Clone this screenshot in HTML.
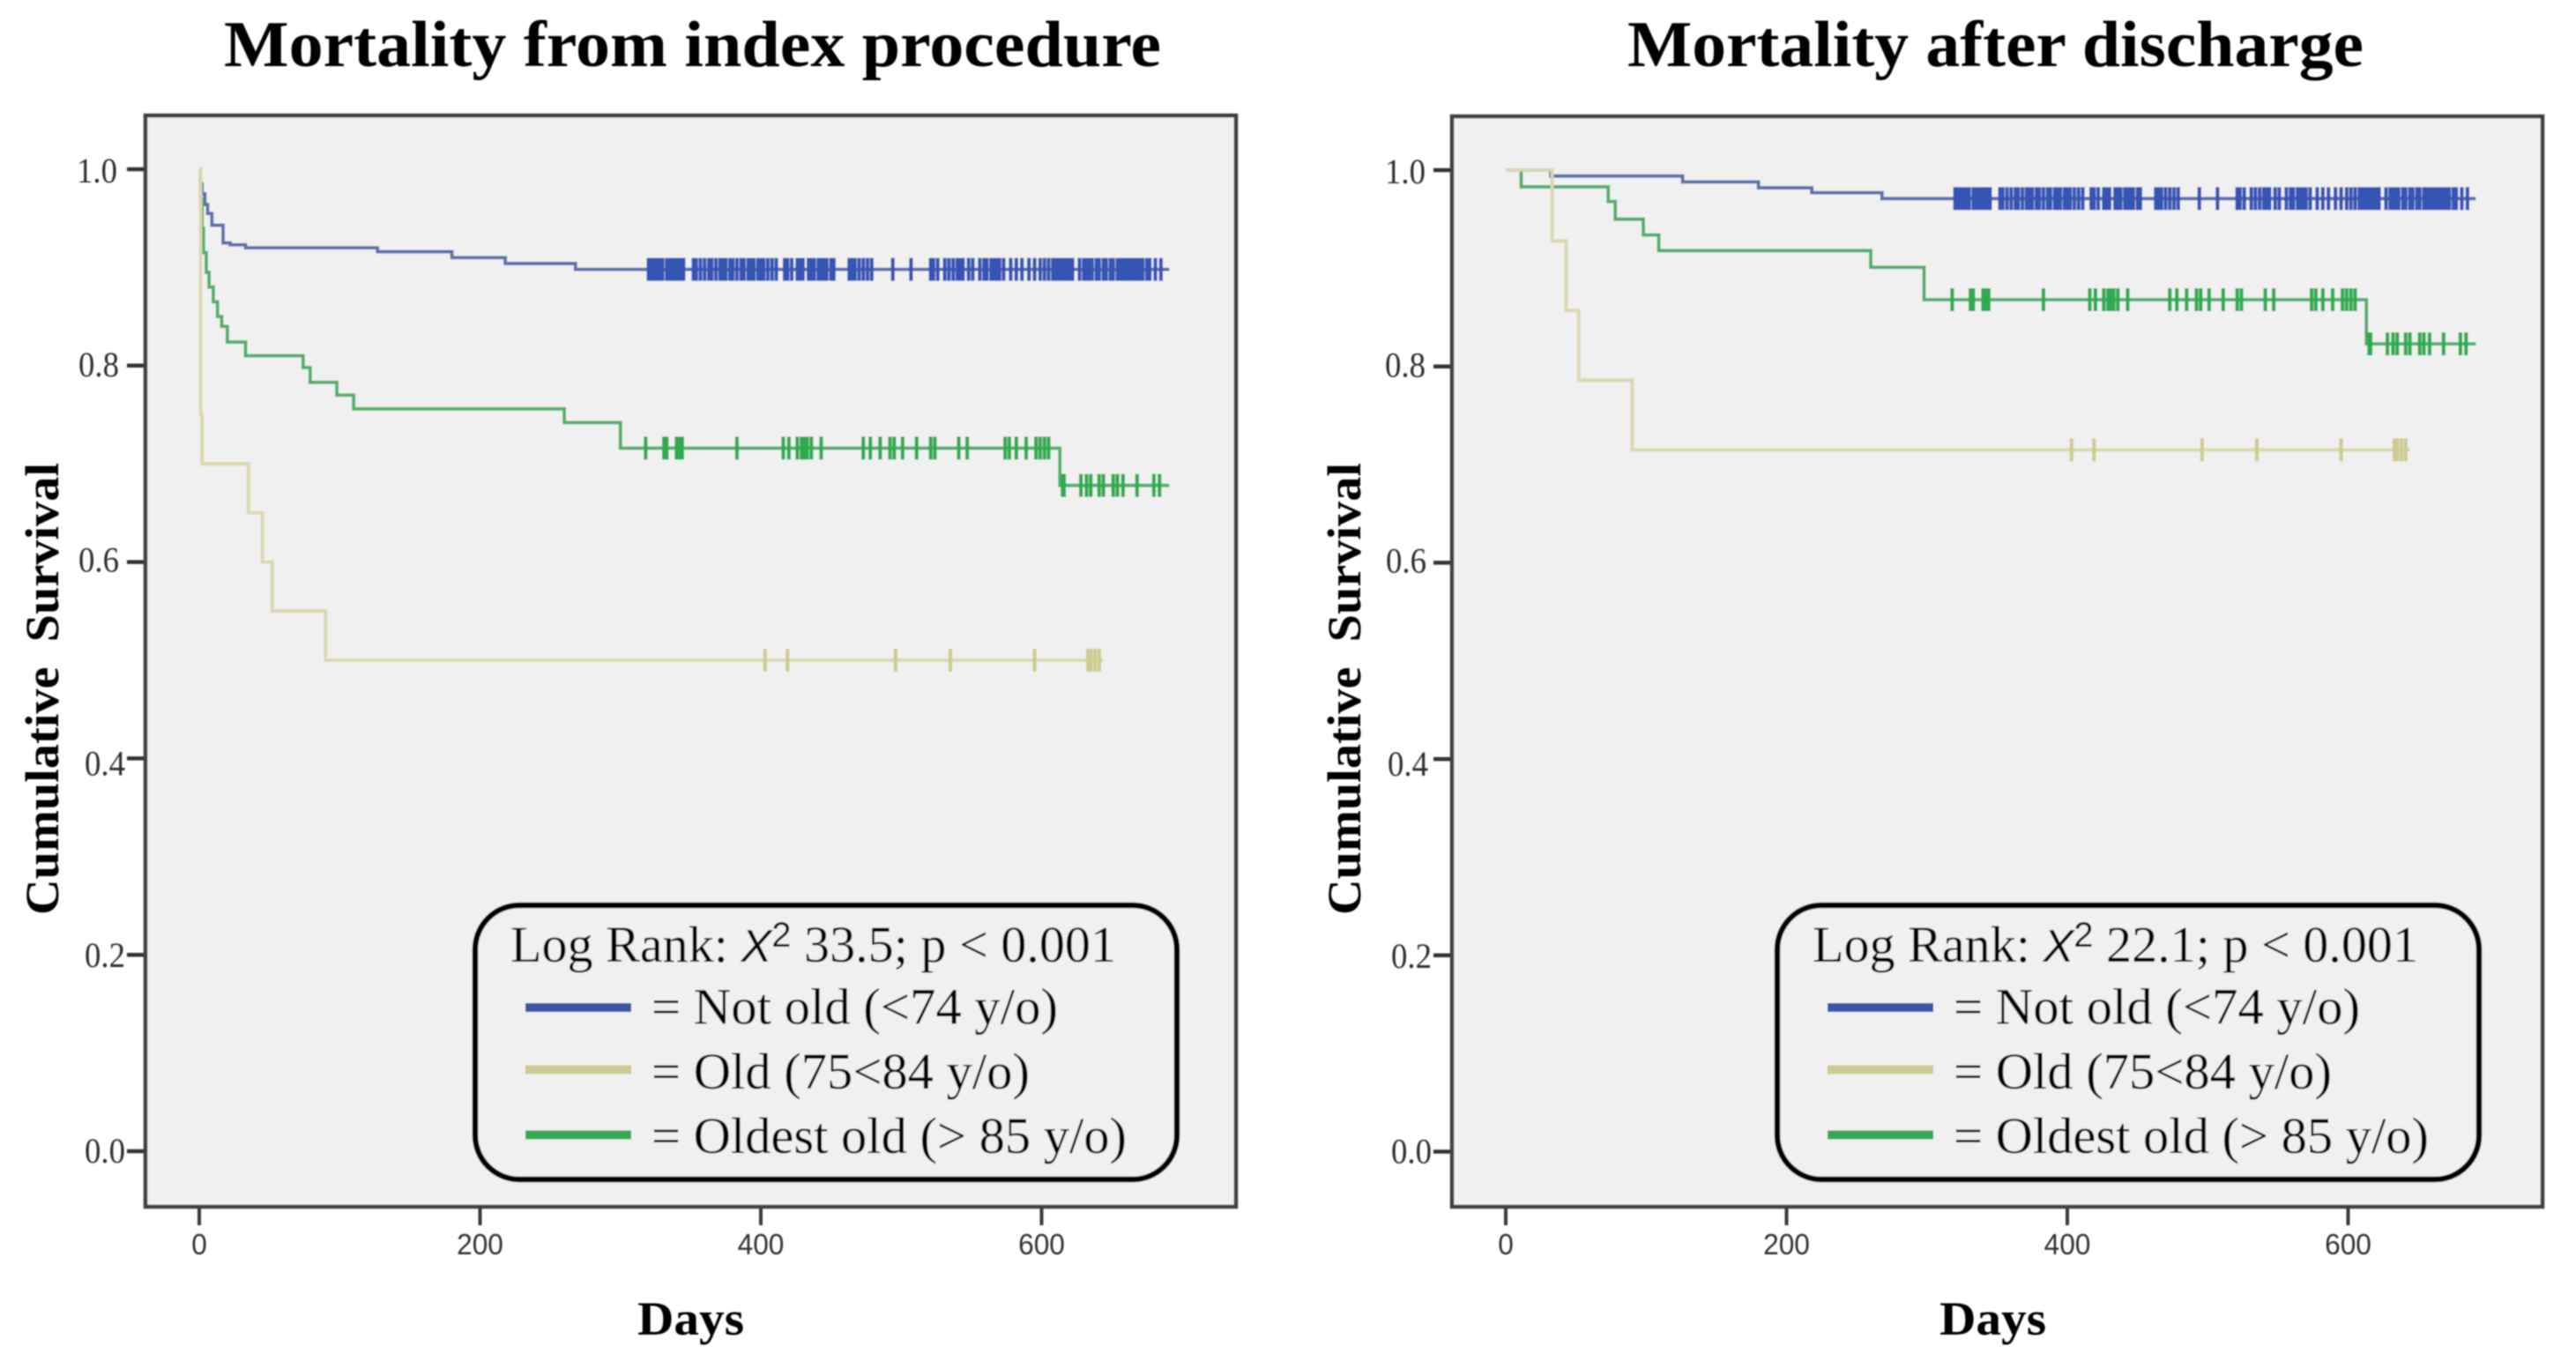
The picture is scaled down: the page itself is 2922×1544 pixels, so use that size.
<!DOCTYPE html>
<html lang="en">
<head>
<meta charset="utf-8">
<title>Mortality survival curves</title>
<style>
html,body{margin:0;padding:0;background:#fff;width:2922px;height:1544px;overflow:hidden}
svg{display:block}
.serif{font-family:"Liberation Serif",serif;fill:#000}
.bold{font-weight:700;fill:#000}
.sans{font-family:"Liberation Sans",sans-serif;fill:#333}
.tick-serif{font-family:"Liberation Serif",serif;fill:#2e2e2e}
</style>
</head>
<body>
<svg id="chart" xmlns="http://www.w3.org/2000/svg" width="2922" height="1544" viewBox="0 0 2922 1544">
  <defs>
    <filter id="soft" filterUnits="userSpaceOnUse" x="0" y="0" width="2922" height="1544">
      <feGaussianBlur stdDeviation="0.7"/>
    </filter>
  </defs>
  <rect x="0" y="0" width="2922" height="1544" fill="#ffffff"/>
  <g filter="url(#soft)">
    <text class="serif bold" x="254" y="75" font-size="74" textLength="1063" lengthAdjust="spacingAndGlyphs">Mortality from index procedure</text>
    <text class="serif bold" x="1846" y="75" font-size="74" textLength="835" lengthAdjust="spacingAndGlyphs">Mortality after discharge</text>
    <text class="serif bold" transform="translate(66,1038) rotate(-90)" font-size="54" textLength="513" lengthAdjust="spacingAndGlyphs" style="white-space:pre">Cumulative  Survival</text>
    <text class="serif bold" transform="translate(1543,1038) rotate(-90)" font-size="54" textLength="513" lengthAdjust="spacingAndGlyphs" style="white-space:pre">Cumulative  Survival</text>
    <text class="serif bold" x="723" y="1514" font-size="54" textLength="121" lengthAdjust="spacingAndGlyphs">Days</text>
    <text class="serif bold" x="2200" y="1514" font-size="54" textLength="121" lengthAdjust="spacingAndGlyphs">Days</text>
    <g id="panels"></g>
  </g>
</svg>
<script>
// Axis tick values and labels
const yTickValues = [0, 0.2, 0.4, 0.6, 0.8, 1.0];
const yTickLabels = ['0.0', '0.2', '0.4', '0.6', '0.8', '1.0'];
const xTickValues = [0, 200, 400, 600];
const xTickLabels = ['0', '200', '400', '600'];

// Left panel: Mortality from index procedure (step days and survival after each step)
const leftBlueDays = [1, 2, 4, 6, 9, 17, 22, 33, 127, 180, 218, 268];
const leftBlueSurv = [0.985, 0.975, 0.964, 0.955, 0.943, 0.925, 0.923, 0.92, 0.916, 0.91, 0.904, 0.898];
const leftGreenDays = [1, 2, 3, 5, 7, 10, 13, 16, 20, 33, 74, 79, 98, 110, 260, 300, 613];
const leftGreenSurv = [0.97, 0.94, 0.915, 0.895, 0.88, 0.865, 0.85, 0.84, 0.824, 0.81, 0.798, 0.783, 0.77, 0.756, 0.742, 0.716, 0.678];
const leftTanDays = [1, 2, 35, 45, 52, 90];
const leftTanSurv = [0.75, 0.70, 0.65, 0.60, 0.55, 0.50];

// Right panel: Mortality after discharge
const rightBlueDays = [32, 126, 180, 218, 268];
const rightBlueSurv = [0.994, 0.988, 0.982, 0.977, 0.971];
const rightGreenDays = [11, 73, 78, 98, 109, 260, 298, 613];
const rightGreenSurv = [0.983, 0.968, 0.95, 0.934, 0.918, 0.901, 0.868, 0.823];
const rightTanDays = [33, 43, 52, 90];
const rightTanSurv = [0.928, 0.857, 0.786, 0.715];

// Last follow-up day per group
const blueEndDay = 691;
const greenEndDay = 691;
const tanEndDay = 644;

// Censoring marks (days)
const blueCensorDays = [320,322,324,326,328,330,333,335,337,339,341,343,345,352,354,357,360,363,365,368,371,373,375,378,380,383,386,388,391,393,395,398,400,402,405,408,411,417,419,422,426,428,430,434,436,438,441,443,445,447,450,452,463,465,467,470,473,476,479,494,507,521,523,526,531,534,537,540,542,544,548,551,556,559,561,564,566,568,570,573,578,582,586,591,595,599,602,605,608,610,612,614,616,618,620,622,627,630,632,634,636,639,641,644,646,649,651,654,656,658,660,662,664,666,668,670,672,675,677,681,685];
const greenCensorDays = [318,331,333,340,342,344,383,416,420,426,429,431,433,436,443,473,478,485,492,495,501,511,521,524,541,547,574,577,582,589,596,599,602,605,615,616,628,632,635,641,644,651,654,658,668,680,684];
const tanCensorDays = [403,419,496,535,595,633,635,638,641];

// Legend content
const legendLabels = ['= Not old (<74 y/o)', '= Old (75<84 y/o)', '= Oldest old (> 85 y/o)'];

const NS = 'http://www.w3.org/2000/svg';
const root = document.getElementById('panels');

function make(parent, tag, attrs, text) {
  const node = document.createElementNS(NS, tag);
  for (const k in attrs) node.setAttribute(k, attrs[k]);
  if (text !== undefined) node.textContent = text;
  parent.appendChild(node);
  return node;
}

function survivalAt(days, surv, day) {
  let s = 1;
  for (let i = 0; i < days.length; i++) {
    if (day >= days[i]) s = surv[i];
  }
  return s;
}

function drawPanel(side, cfg) {
  const xScale = d => cfg.x0 + d * 1.5925;
  const yScale = s => cfg.y0 - s * cfg.yk;
  const labelBaseline = [13, 14, 19, 11, 12, 15];

  const g = make(root, 'g', {});
  
  

  const bg = make(g, 'rect', {x: cfg.left, y: cfg.top, width: cfg.right - cfg.left, height: 1369 - cfg.top, fill: '#f0f0f0'});
  
  

  // y ticks
  yTickValues.forEach((v, i) => {
    const t = make(g, 'line', {x1: cfg.left - 21, x2: cfg.left, y1: yScale(v), y2: yScale(v), stroke: '#333333', 'stroke-width': 4.5});
    
    
    const l = make(g, 'text', {x: cfg.left - cfg.labelGap[i] - 46, y: yScale(v) + labelBaseline[i], 'font-size': 40, class: 'tick-serif', textLength: 46, lengthAdjust: 'spacingAndGlyphs'}, yTickLabels[i]);
    
    
  });

  // x ticks
  xTickValues.forEach((v, i) => {
    const t = make(g, 'line', {x1: xScale(v), x2: xScale(v), y1: 1369, y2: 1390, stroke: '#3a3a3a', 'stroke-width': 4});
    
    
    const w = xTickLabels[i].length * 17.6;
    const l = make(g, 'text', {x: xScale(v) - w / 2, y: 1423, 'font-size': 33, class: 'sans', textLength: w, lengthAdjust: 'spacingAndGlyphs'}, xTickLabels[i]);
    
    
  });

  // curves
  cfg.series.forEach(s => {
    let d = 'M' + xScale(0) + ' ' + yScale(1);
    s.days.forEach((day, i) => {
      d += 'H' + xScale(day) + 'V' + yScale(s.surv[i]);
    });
    d += 'H' + xScale(s.end);
    const p = make(g, 'path', {d: d, fill: 'none', stroke: s.line, 'stroke-width': 3.8});
    
    
    s.censor.forEach(day => {
      const yy = yScale(survivalAt(s.days, s.surv, day));
      const m = make(g, 'line', {x1: xScale(day), x2: xScale(day), y1: yy - 13, y2: yy + 13, stroke: s.mark, 'stroke-width': 4.2});
      
      
    });
  });

  // frame
  const f = make(g, 'rect', {x: cfg.left, y: cfg.top, width: cfg.right - cfg.left, height: 1369 - cfg.top, fill: 'none', stroke: '#404040', 'stroke-width': 4.5});
  
  

  // legend
  const dx = cfg.legendDx;
  const lg = make(g, 'g', {});
  
  

  const box = make(lg, 'rect', {x: 539 + dx, y: 1027, width: 796, height: 311, rx: 50, ry: 50, fill: '#f0f0f0', stroke: '#000', 'stroke-width': 6.5});
  
  

  const head = make(lg, 'text', {x: 579 + dx, y: 1091, 'font-size': 58, class: 'serif', textLength: 687, lengthAdjust: 'spacingAndGlyphs'});
  
  
  make(head, 'tspan', {}, 'Log Rank: ');
  make(head, 'tspan', {'font-style': 'italic', 'font-size': 52, 'font-family': '"Liberation Sans",sans-serif'}, 'X');
  make(head, 'tspan', {'font-size': 40, 'font-family': '"Liberation Sans",sans-serif', dy: -17}, '2');
  make(head, 'tspan', {dy: 17}, ' ' + cfg.stat + '; p < 0.001');

  const rowColors = ['#3a55a8', '#cfc992', '#35a853'];
  const rowY = [1143, 1213.5, 1287.5];
  const rowBase = [1161.5, 1235, 1308];
  const rowLen = [461, 429, 539];
  const rowKeys = ['not-old', 'old', 'oldest-old'];
  legendLabels.forEach((label, i) => {
    const sw = make(lg, 'line', {x1: 596 + dx, x2: 716 + dx, y1: rowY[i], y2: rowY[i], stroke: rowColors[i], 'stroke-width': 10});
    
    
    const t = make(lg, 'text', {x: 739 + dx, y: rowBase[i], 'font-size': 58, class: 'serif', textLength: rowLen[i], lengthAdjust: 'spacingAndGlyphs'}, label);
    
    
  });
}

drawPanel('left', {
  x0: 226, y0: 1306, yk: 1114, left: 165, right: 1402, top: 131, legendDx: 0, stat: '33.5',
  labelGap: [23, 23, 23, 30, 30, 32],
  series: [
    {name: 'not-old', days: leftBlueDays, surv: leftBlueSurv, end: blueEndDay, censor: blueCensorDays, line: '#5b70ab', mark: '#3555b5'},
    {name: 'oldest-old', days: leftGreenDays, surv: leftGreenSurv, end: greenEndDay, censor: greenCensorDays, line: '#4fae6c', mark: '#2eaa4f'},
    {name: 'old', days: leftTanDays, surv: leftTanSurv, end: tanEndDay, censor: tanCensorDays, line: '#dbd7ae', mark: '#cfcb92'}
  ]
});

drawPanel('right', {
  x0: 1708, y0: 1306.5, yk: 1113.5, left: 1647, right: 2884, top: 132, legendDx: 1477, stat: '22.1',
  labelGap: [23, 23, 27, 29, 30, 30],
  series: [
    {name: 'not-old', days: rightBlueDays, surv: rightBlueSurv, end: blueEndDay, censor: blueCensorDays, line: '#5b70ab', mark: '#3555b5'},
    {name: 'oldest-old', days: rightGreenDays, surv: rightGreenSurv, end: greenEndDay, censor: greenCensorDays, line: '#4fae6c', mark: '#2eaa4f'},
    {name: 'old', days: rightTanDays, surv: rightTanSurv, end: tanEndDay, censor: tanCensorDays, line: '#dbd7ae', mark: '#cfcb92'}
  ]
});
</script>
</body>
</html>
